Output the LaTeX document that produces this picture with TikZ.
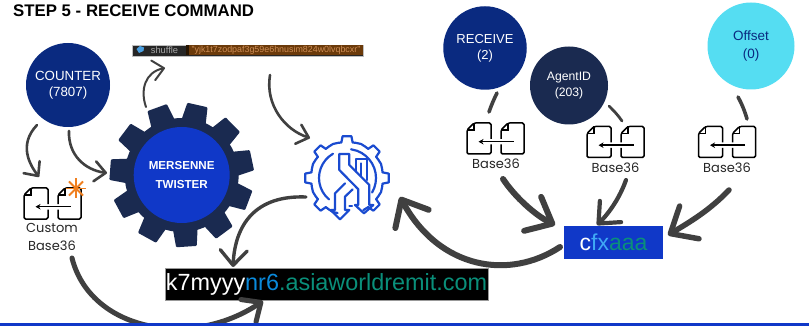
\documentclass[tikz,border=0pt]{standalone}
\usepackage{fontspec}
\setmainfont{Liberation Sans}
\newfontfamily\popfont{Poppins}
\usetikzlibrary{arrows.meta}
\definecolor{navy}{HTML}{0A2A80}
\definecolor{darknavy}{HTML}{1A2A50}
\definecolor{cyanc}{HTML}{55DDF2}
\definecolor{royal}{HTML}{1038C8}
\definecolor{iconblue}{HTML}{1A4BD0}
\definecolor{arrowgrey}{HTML}{404040}
\definecolor{teal2}{HTML}{0A8F7A}
\definecolor{sky2}{HTML}{0A8ADC}
\definecolor{orange2}{HTML}{F08020}
\definecolor{fxblue}{HTML}{3FA9F5}
\newcommand{\fs}[1]{\fontsize{#1}{#1}\selectfont}
\tikzset{
  x=1pt,y=-1pt,
  disc/.style={circle,inner sep=0pt,align=center,text=white},
  blank/.style={rectangle,inner sep=0pt,minimum width=57pt,minimum height=31pt},
  lab/.style={inner sep=0pt,font=\popfont\fs{13},text=black!85},
  link/.style={draw=arrowgrey,line cap=round,line width=#1},
  thin tip/.style={-{Straight Barb[length=11pt,width=20pt,round]}},
  mid tip/.style={-{Straight Barb[length=15pt,width=27pt,round]}},
  fat tip/.style={-{Straight Barb[length=22pt,width=38pt,round]}},
  docpair/.pic={
    \draw[line width=1.5pt,rounded corners=1.5pt,line join=round]
      (-4.5,0.5) -- (-4.5,-15.5) -- (-21.5,-15.5) -- (-28.5,-8.5) -- (-28.5,15.5) -- (-4.5,15.5) -- (-4.5,6);
    \draw[line width=1.1pt] (-21.5,-15.5) -- (-21.5,-8.5) -- (-28.5,-8.5);
    \draw[line width=1.5pt,rounded corners=1.5pt,line join=round]
      (5.5,0.5) -- (5.5,-8.5) -- (12.5,-15.5) -- (28.5,-15.5) -- (28.5,15.5) -- (5.5,15.5) -- (5.5,6);
    \draw[line width=1.1pt] (12.5,-15.5) -- (12.5,-8.5) -- (5.5,-8.5);
    \draw[line width=1.5pt,-{Stealth[length=5pt,width=5.5pt]}] (18,3.2) -- (-17,3.2);
  }
}
\begin{document}
\begin{tikzpicture}
\useasboundingbox (0,0) rectangle (809,326);
% title
\node[anchor=west,inner sep=0pt,font=\bfseries\fs{16.8}] (title) at (13,11) {STEP 5 - RECEIVE COMMAND};
% discs
\node[disc,fill=navy,minimum size=84pt,font=\fs{13.3}] (counter) at (68,85) {COUNTER\\[2.5pt](7807)};
\node[disc,fill=navy,minimum size=83.5pt,font=\fs{13}] (receive) at (485,48) {RECEIVE\\[3pt](2)};
\node[disc,fill=darknavy,minimum size=78pt,font=\fs{12.2}] (agent) at (569,85.5) {AgentID\\[4.5pt](203)};
\node[disc,fill=cyanc,minimum size=87pt,font=\fs{13.5},text=navy] (offset) at (751,46) {Offset\\[5pt](0)};
% gear
\foreach \a in {110,77.3,44.6,11.9,-20.8,-53.5,-86.2,-118.9,-151.6,-184.3,-217}{
  \fill[darknavy,rounded corners=1pt] ([shift={(181.7,175)}]\a+13:55pt) -- ([shift={(181.7,175)}]\a+8.2:72.5pt) -- ([shift={(181.7,175)}]\a-8.2:72.5pt) -- ([shift={(181.7,175)}]\a-13:55pt) -- cycle;
}
\fill[darknavy] (181.7,175) circle[radius=57pt];
\node[disc,fill=royal,minimum size=96pt,font=\bfseries\fs{11.6}] (gear) at (181.7,175) {MERSENNE\\[8pt]TWISTER};
% shuffle bar
\node[rectangle,inner sep=0pt,minimum width=231pt,minimum height=11pt,fill=black!85,draw=black!25,line width=.4pt] (shuffle) at (247.5,50.5) {};
\fill[black!85!orange] (186,45.5) rectangle (189,55.5);
\fill[fill={rgb,255:red,107;green,58;blue,10}] (189,45.5) rectangle (362.5,55.5);
\fill[fill={rgb,255:red,74;green,159;blue,224}] (136.5,49) -- (140,46) -- (144,47.5) -- (143.5,51) -- (139,53) -- cycle;
\node[inner sep=0pt,text=black!35,font=\fs{9.3}] (shufflename) at (164.5,50.5) {shuffle};
\node[inner sep=0pt,text={rgb,255:red,205;green,140;blue,85},font=\fs{8.9}] (shufflestr) at (276,50.5) {"yjk1t7zodpaf3g59e6hnusim824w0lvqbcxr"};
% doc icons
\node[blank] (icon0) at (52.5,203.5) {};
\pic at (icon0.center) {docpair};
\node[lab] (lab0a) at (52,228) {Custom};
\node[lab] (lab0b) at (52,246) {Base36};
\node[blank] (icon1) at (495.5,138.5) {};
\pic at (icon1.center) {docpair};
\node[lab] (lab1) at (496,164) {Base36};
\node[blank] (icon2) at (615.5,142) {};
\pic at (icon2.center) {docpair};
\node[lab] (lab2) at (615.5,168) {Base36};
\node[blank] (icon3) at (727,142) {};
\pic at (icon3.center) {docpair};
\node[lab] (lab3) at (727,168) {Base36};
% star
\foreach \a in {0,45,90,135}{
  \draw[orange2,line width=1.9pt] ([shift={(76,188.5)}]\a:10pt) -- ([shift={(76,188.5)}]\a+180:10pt);
}
% S gear icon
\node[circle,inner sep=0pt,minimum size=84pt] (sicon) at (347,178) {};
\begin{scope}[iconblue,line width=2.2pt,line join=round,line cap=round]
  \draw ([shift={(347,178)}]-63:36pt)
    \foreach \a in {-45,0,45,90,135,180,225}{
      -- ([shift={(347,178)}]\a-9:36pt) -- ([shift={(347,178)}]\a-6:42pt) -- ([shift={(347,178)}]\a+6:42pt) -- ([shift={(347,178)}]\a+9:36pt)
      -- ([shift={(347,178)}]\a+15:36.3pt) -- ([shift={(347,178)}]\a+22.5:36.8pt) -- ([shift={(347,178)}]\a+30:36.3pt)
    };
  \draw ([shift={(347,178)}]120:28pt) \foreach \a in {130,140,...,235}{ -- ([shift={(347,178)}]\a:28pt)};
  \draw ([shift={(347,178)}]82:29pt) \foreach \a in {70,60,...,-30}{ -- ([shift={(347,178)}]\a:29pt)};
  \begin{scope}[shift={(290,130)},x=.3333pt,y=-.3333pt]
    \draw (148,72) -- (148,120) -- (205,178) -- (205,225) -- (195,225) -- (222,250) -- (250,225) -- (238,225) -- (238,165) -- (178,105) -- (178,72) -- cycle;
    \draw (197,125) -- (197,88) -- (232,88) -- (232,150);
    \draw (212,138) -- (212,100);
    \draw (165,160) -- (135,190) -- (135,240) -- (122,240) -- (150,268) -- (178,240) -- (165,240) -- (165,200) -- (188,178);
    \draw (178,228) -- (186,228);
  \end{scope}
\end{scope}
% text boxes
\node[rectangle,inner sep=0pt,minimum width=323pt,minimum height=32pt,fill=black,draw=black!40,line width=.4pt,font=\fs{23.4}] (domain) at (326.5,284)
  {\textcolor{white}{k7myyy}\textcolor{sky2}{nr6}\textcolor{teal2}{.asiaworldremit.com}};
\node[rectangle,inner sep=0pt,minimum width=99pt,minimum height=33pt,fill=royal,font=\fs{23}] (cfx) at (613.5,242.5)
  {\textcolor{white}{c}\textcolor{fxblue}{fx}\textcolor{teal2}{aaa}};
% connectors
\draw[link=2.6pt,thin tip] ([shift={(-31,40)}]counter.center) .. controls (18,145) and (30,165) .. ([shift={(-13.5,-26.5)}]icon0.center);
\draw[link=2.6pt,thin tip] ([shift={(1,46)}]counter.center) .. controls (68,155) and (85,170) .. ([shift={(-74.7,-2)}]gear.center);
\draw[link=2pt,thin tip] ([shift={(-35.7,-68)}]gear.center) .. controls (140,90) and (145,72) .. ([shift={(-82.5,17.5)}]shuffle.center);
\draw[link=2.6pt,thin tip] ([shift={(22.5,24.5)}]shuffle.center) .. controls (265,105) and (285,130) .. ([shift={(-37,-40)}]sicon.center);
\draw[link=3.4pt,mid tip] ([shift={(-41,19)}]sicon.center) .. controls (255,195) and (235,225) .. ([shift={(-93.5,-17)}]domain.center);
\draw[link=5pt,mid tip] ([shift={(20,12)}]lab0b.center) .. controls (90,330) and (190,350) .. ([shift={(-63.5,17)}]domain.center);
\draw[link=3.6pt] ([shift={(12,45)}]receive.center) .. controls (494,99) and (491,106) .. ([shift={(-6.5,-26.5)}]icon1.center);
\draw[link=2.8pt] ([shift={(40,20.5)}]agent.center) .. controls (613,110) and (618,115) .. ([shift={(6.5,-21)}]icon2.center);
\draw[link=3.6pt] ([shift={(-13,51)}]offset.center) .. controls (742,104) and (745,112) .. ([shift={(20,-23)}]icon3.center);
\draw[link=6pt,fat tip] ([shift={(7,15)}]lab1.center) .. controls (515,197) and (535,215) .. ([shift={(-58.5,-17.5)}]cfx.center);
\draw[link=4.2pt,-{Straight Barb[length=17pt,width=30pt,round]}] ([shift={(10.5,12)}]lab2.center) .. controls (620,197) and (610,212) .. ([shift={(-16.5,-17.5)}]cfx.center);
\draw[link=5.5pt,fat tip] ([shift={(2,22)}]lab3.center) .. controls (710,210) and (690,222) .. ([shift={(54.5,-7.5)}]cfx.center);
\draw[link=6pt,fat tip] ([shift={(-53.5,4.5)}]cfx.center) .. controls (510,280) and (440,270) .. ([shift={(53,19)}]sicon.center);
% bottom bar
\fill[royal] (0,322.5) rectangle (809,326);
\end{tikzpicture}
\end{document}
